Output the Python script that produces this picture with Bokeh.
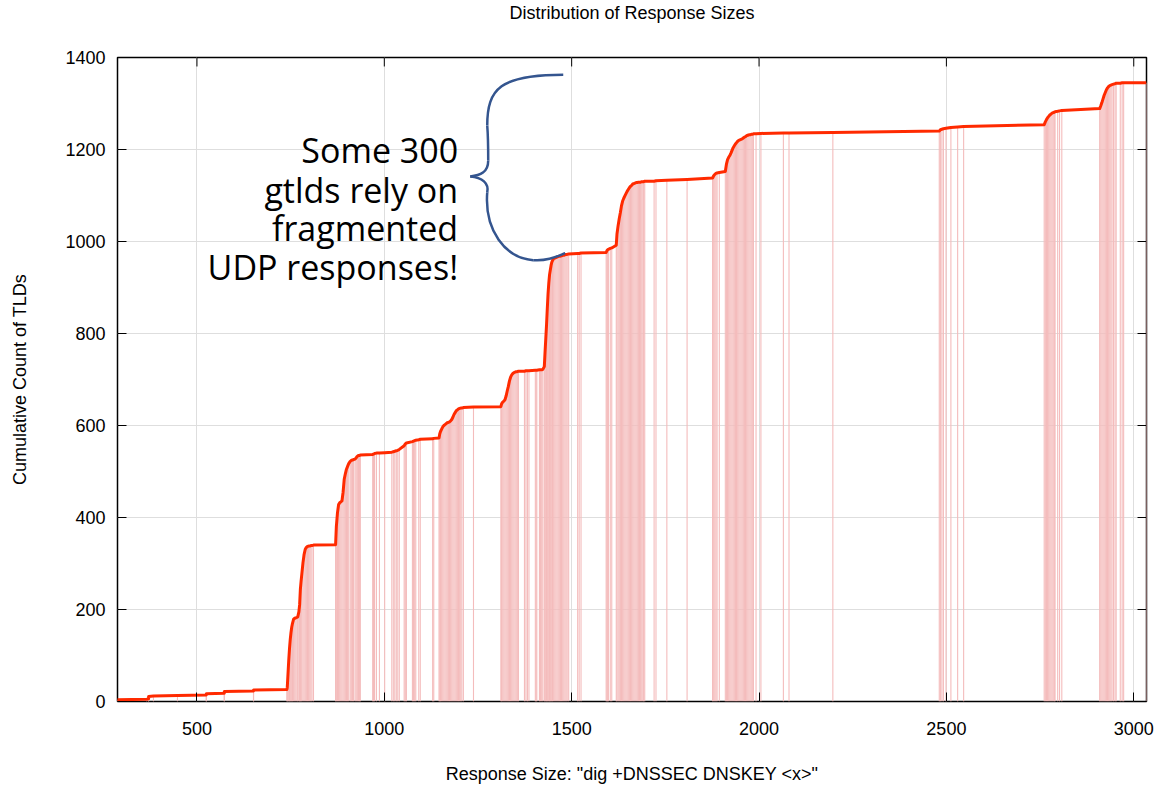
from bokeh.plotting import figure
from bokeh.models import Range1d, FixedTicker, ColumnDataSource
from bokeh.embed import file_html
from bokeh.resources import INLINE
from bokeh.core.properties import value

# ---------------- data ----------------
sizes = [
    288, 288, 366, 371, 371, 384, 448, 525, 525, 573, 573, 651, 651, 740,
    741, 743, 745, 747, 749, 751, 753, 755, 758, 761, 764, 767, 769, 772, 774, 776, 778, 780,
    783, 786, 789, 792, 795, 798, 801, 804, 807, 811,
    870, 872, 875, 878, 881, 884, 887, 890, 893, 896, 899, 902, 905, 909, 912, 915, 918, 922,
    925, 928, 931, 934, 936,
    969, 971, 974, 979, 987, 1001, 1020, 1024, 1028, 1032, 1036, 1040, 1053, 1056, 1059, 1075,
    1078, 1081, 1084, 1092, 1096, 1129, 1132,
    1146, 1148, 1150, 1153, 1156, 1159, 1162, 1165, 1168, 1171, 1174, 1177, 1180, 1183, 1186,
    1189, 1192, 1195, 1198, 1201, 1204, 1207, 1211, 1238,
    1311, 1313, 1316, 1319, 1322, 1325, 1328, 1331, 1334, 1337, 1340, 1343, 1346, 1349, 1352,
    1355, 1358, 1374, 1378, 1382, 1386, 1403, 1405, 1407, 1414, 1417, 1420, 1423,
    1427, 1429, 1431, 1433, 1435, 1437, 1439, 1441, 1443, 1445, 1447, 1449, 1452,
    1455, 1458, 1461, 1464, 1467, 1470, 1473, 1476, 1479, 1482, 1485, 1488, 1492, 1516, 1520, 1525,
    1592, 1594, 1596, 1598, 1603, 1607,
    1619, 1621, 1624, 1627, 1630, 1633, 1636, 1639, 1642, 1645, 1648, 1651, 1654, 1657, 1660,
    1663, 1666, 1669, 1672, 1675, 1678, 1681, 1684, 1687, 1690, 1692, 1695, 1720, 1725, 1754, 1808,
    1876, 1879, 1882, 1885, 1888, 1894,
    1910, 1913, 1916, 1919, 1922, 1925, 1928, 1931, 1934, 1937, 1940, 1943, 1946, 1949, 1952,
    1955, 1958, 1961, 1964, 1967, 1970, 1973, 1976, 1979, 1982, 1985, 1992, 2005, 2065, 2080, 2197,
    2481, 2484, 2488, 2492, 2499, 2512, 2530, 2546,
    2761, 2764, 2767, 2770, 2773, 2776, 2779, 2782, 2785, 2788, 2790, 2797, 2802, 2808,
    2909, 2912, 2915, 2918, 2921, 2924, 2927, 2930, 2933, 2936, 2939, 2942, 2946, 2950, 2953,
    2964, 2969, 2973, 3034,
]
counts = [
    1, 4, 5, 6, 11, 12, 13, 14, 17, 18, 22, 23, 25, 26,
    30, 60, 90, 115, 135, 150, 162, 170, 179, 181, 182, 183, 184, 195, 210, 244, 262, 278,
    302, 320, 331, 335, 337, 338, 338, 339, 339, 340,
    341, 380, 410, 428, 432, 434, 436, 455, 483, 495, 505, 511, 517, 522, 524, 525, 526, 527,
    530, 533, 535, 535, 536,
    537, 538, 539, 540, 540, 541, 542, 543, 544, 545, 546, 548, 556, 560, 562, 565,
    566, 567, 568, 569, 570, 571, 572,
    573, 582, 587, 592, 597, 600, 602, 604, 606, 607, 608, 610, 613, 618, 624,
    628, 632, 634, 636, 637, 638, 638, 639, 640,
    641, 647, 651, 653, 656, 664, 675, 685, 697, 705, 710, 713, 715, 716, 717,
    717, 718, 718, 719, 719, 719, 720, 720, 720, 721, 721, 721, 722,
    728, 760, 790, 820, 855, 887, 910, 928, 938, 948, 955, 959, 963,
    964, 965, 966, 967, 968, 968, 969, 970, 970, 971, 972, 972, 973, 974, 974, 975,
    976, 980, 982, 983, 985, 986,
    992, 1017, 1035, 1050, 1063, 1078, 1088, 1094, 1099, 1104, 1109, 1113, 1117, 1120, 1122,
    1125, 1126, 1127, 1128, 1128, 1129, 1129, 1129, 1130, 1130, 1130, 1131, 1131, 1132, 1133, 1135,
    1138, 1143, 1146, 1148, 1149, 1150,
    1152, 1168, 1178, 1183, 1187, 1192, 1198, 1204, 1208, 1212, 1215, 1218, 1220, 1221, 1222,
    1223, 1225, 1227, 1228, 1230, 1231, 1232, 1232, 1233, 1233, 1234, 1234, 1235, 1236, 1236, 1237,
    1240, 1243, 1244, 1245, 1246, 1248, 1249, 1250,
    1254, 1260, 1265, 1269, 1272, 1275, 1277, 1279, 1280, 1281, 1282, 1283, 1284, 1285,
    1289, 1295, 1302, 1310, 1318, 1324, 1330, 1334, 1337, 1339, 1340, 1341, 1342, 1343, 1344,
    1344, 1345, 1345, 1345,
]

x_ticks = [500, 1000, 1500, 2000, 2500, 3000]
y_ticks = [0, 200, 400, 600, 800, 1000, 1200, 1400]
x_start, x_end = 288, 3034
y_start, y_end = 0, 1400

title_text = "Distribution of Response Sizes"
x_label = 'Response Size: "dig +DNSSEC DNSKEY <x>"'
y_label = "Cumulative Count of TLDs"

note_lines = ["Some 300", "gtlds rely on", "fragmented", "UDP responses!"]
note_x = [1197, 1197, 1197, 1197]
note_y = [1198, 1111, 1029, 945]

# curly brace (cubic bezier pieces, data coordinates)
brace_x0 = [1477.5, 1274.7, 1277.3, 1229.3, 1274.7, 1397.4]
brace_y0 = [1362.6, 1252.0, 1176.2, 1141.5, 1106.8, 959.5]
brace_x1 = [1274.7, 1277.3, 1229.3, 1274.7, 1397.4, 1482.8]
brace_y1 = [1252.0, 1176.2, 1141.5, 1106.8, 959.5, 974.7]
brace_cx0 = [1309.4, 1277.3, 1277.3, 1261.3, 1266.7, 1437.5]
brace_cy0 = [1362.6, 1225.0, 1150.2, 1139.4, 1024.5, 957.3]
brace_cx1 = [1274.7, 1277.3, 1256.0, 1280.0, 1322.7, 1461.4]
brace_cy1 = [1332.2, 1200.0, 1143.7, 1126.4, 963.8, 968.0]

# ---------------- layout ----------------
FONT = "Liberation Sans"
W, H = 1156, 786
B_LEFT, B_RIGHT, B_TOP = 117, 10, 57
B_BOTTOM = 83
frame_w = W - B_LEFT - B_RIGHT
frame_h = H - B_TOP - B_BOTTOM
TICK = 9

src = ColumnDataSource(dict(x=sizes, y=counts, zero=[0] * len(sizes)))

# a trailing blank line lifts the title to the top edge of the figure
p = figure(width=W, height=H, output_backend="svg", toolbar_location=None,
           x_range=Range1d(x_start, x_end), y_range=Range1d(y_start, y_end),
           min_border_left=B_LEFT, min_border_right=B_RIGHT,
           min_border_top=B_TOP, min_border_bottom=B_BOTTOM,
           title=title_text + "\n")
p.background_fill_color = "white"
p.border_fill_color = "white"
p.outline_line_color = "black"
p.outline_line_width = 1.5

p.title.align = "center"
p.title.vertical_align = "top"
p.title.text_font = FONT
p.title.text_font_size = "18px"
p.title.text_font_style = "normal"
p.title.text_color = "black"
p.title.text_line_height = 1.65
p.title.standoff = 0

for ax in (p.xaxis[0], p.yaxis[0]):
    ax.axis_line_color = None
    ax.major_tick_in = TICK
    ax.major_tick_out = 0
    ax.major_tick_line_color = "black"
    ax.minor_tick_line_color = None
    ax.major_label_text_font = FONT
    ax.major_label_text_font_size = "18px"
    ax.major_label_text_color = "black"
    ax.axis_label_text_font = FONT
    ax.axis_label_text_font_size = "18px"
    ax.axis_label_text_font_style = "normal"
    ax.axis_label_text_color = "black"

p.xaxis[0].ticker = FixedTicker(ticks=x_ticks)
p.yaxis[0].ticker = FixedTicker(ticks=y_ticks)
p.xaxis[0].axis_label = x_label
p.yaxis[0].axis_label = y_label
p.xaxis[0].major_label_standoff = 20
p.xaxis[0].axis_label_standoff = 26
p.yaxis[0].major_label_standoff = 12
p.yaxis[0].axis_label_standoff = 32

p.xgrid.ticker = FixedTicker(ticks=x_ticks)
p.ygrid.ticker = FixedTicker(ticks=y_ticks)
for g in (p.xgrid[0], p.ygrid[0]):
    g.grid_line_color = "#dedede"
    g.grid_line_width = 1

# impulses
p.segment(x0="x", y0="zero", x1="x", y1="y", source=src,
          line_color="#f4bcbc", line_width=1.1)
# cumulative line
p.line("x", "y", source=src, line_color="#ff2a00", line_width=3, line_join="round")

# mirrored inward ticks on top and right borders
dy_tick = TICK * (y_end - y_start) / frame_h
dx_tick = TICK * (x_end - x_start) / frame_w
p.segment(x0=x_ticks, y0=[y_end] * len(x_ticks), x1=x_ticks,
          y1=[y_end - dy_tick] * len(x_ticks), line_color="black", line_width=1)
p.segment(x0=[x_end] * len(y_ticks), y0=y_ticks, x1=[x_end - dx_tick] * len(y_ticks),
          y1=y_ticks, line_color="black", line_width=1)

# annotation
p.text(x=note_x, y=note_y, text=note_lines, text_font=value("Open Sans"),
       text_font_size=value("34px"), text_align="right", text_baseline="alphabetic",
       text_color="black")
p.bezier(x0=brace_x0, y0=brace_y0, x1=brace_x1, y1=brace_y1,
         cx0=brace_cx0, cy0=brace_cy0, cx1=brace_cx1, cy1=brace_cy1,
         line_color="#34558f", line_width=2.5)

open("out.html", "w").write(file_html(p, INLINE))
